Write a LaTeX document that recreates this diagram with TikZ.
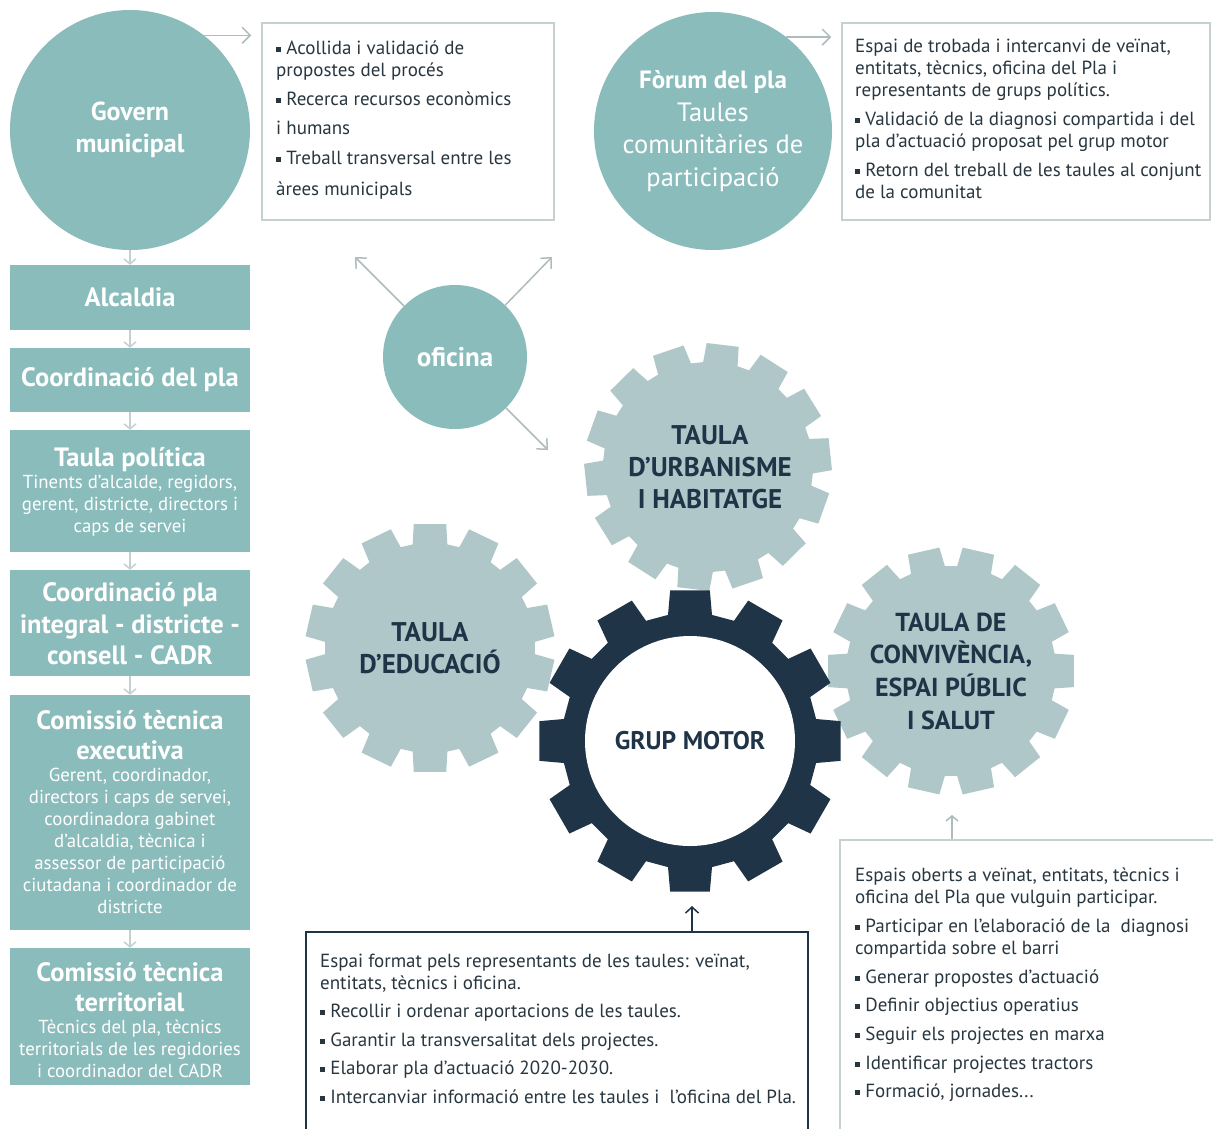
\documentclass[tikz,border=0pt]{standalone}
\usepackage{fontspec}
\setmainfont{PT Sans}
\usepackage{tikz}
\usetikzlibrary{arrows.meta, positioning, calc}

\definecolor{plateal}{HTML}{8ABCBB}
\definecolor{gearlight}{HTML}{AFC7C9}
\definecolor{navy}{HTML}{1F3447}
\definecolor{boxline}{HTML}{C5D0D0}
\definecolor{txt}{HTML}{28363F}
\definecolor{arrowgray}{HTML}{AEBCBC}
\definecolor{colarrow}{HTML}{C3D1D1}

% small square bullet
\newcommand{\sqb}{\raisebox{0.12em}{\rule{0.27em}{0.27em}}\ }

% gear: x, y, teeth, base radius, outer radius, colour, rotation
\newcommand{\gear}[7]{%
  \begin{scope}[shift={(#1,#2)}, rotate=#7]
    \fill[#6] ({0.37*360/#3}:#4)
      \foreach \k [evaluate=\k as \a using \k*360/#3] in {1,...,#3}{
        -- ({\a-0.37*360/#3}:#4) -- ({\a-0.29*360/#3}:#5)
        -- ({\a+0.29*360/#3}:#5) -- ({\a+0.37*360/#3}:#4)} -- cycle;
  \end{scope}}
\newcommand{\motorgear}[5]{%
  \begin{scope}[shift={(#1,#2)}]
    \fill[navy] ({0.33*360/#3}:#4)
      \foreach \k [evaluate=\k as \a using \k*360/#3] in {1,...,#3}{
        -- ({\a-0.33*360/#3}:#4) -- ({\a-0.25*360/#3}:#5)
        -- ({\a+0.25*360/#3}:#5) -- ({\a+0.33*360/#3}:#4)} -- cycle;
  \end{scope}}

\begin{document}
\begin{tikzpicture}[x=1pt, y=-1pt,
    bigdisc/.style={circle, fill=plateal, minimum size=240, inner sep=0, text=white, align=center},
    colbox/.style={rectangle, fill=plateal, minimum width=240, inner sep=0},
    coltitle/.style={text=white, align=center, inner sep=0, font=\fontsize{26.5}{30}\selectfont\bfseries},
    colsub/.style={text=white, align=center, inner sep=0, font=\fontsize{18.8}{22}\selectfont},
    frame/.style={rectangle, draw=boxline, line width=1.5pt, inner sep=0},
    infotext/.style={anchor=north west, inner sep=0, align=left, text=txt, font=\fontsize{19}{22}\selectfont},
    geartext/.style={text=navy, align=center, inner sep=0, font=\fontsize{27}{32}\selectfont\bfseries},
    topflow/.style={draw=arrowgray, line width=1.5pt, -{Straight Barb[length=8pt,width=16pt]}},
    colflow/.style={draw=colarrow, line width=1.5pt, -{Straight Barb[length=5pt,width=12pt]}},
    ofiflow/.style={draw=arrowgray, line width=1.5pt, -{Straight Barb[length=8pt,width=15pt]}}]
  \useasboundingbox[fill=white] (0,0) rectangle (1213,1128);

  % top circles and their boxes
  \node[bigdisc, font=\fontsize{26}{32}\selectfont\bfseries] (govern) at (130,130) {Govern\\municipal};
  \node[bigdisc, minimum size=238, font=\fontsize{26.5}{32.5}\selectfont] (forum) at (713,131)
    {\fontsize{25}{32.5}\selectfont\bfseries Fòrum del pla\\Taules\\comunitàries de\\participació};
  \node[frame, minimum width=292, minimum height=197] (gbox) at (408,121.5) {};
  \node[frame, minimum width=368, minimum height=197] (fbox) at (1026,121.5) {};
  \node[infotext] (gtext) at (276,39) {\strut\sqb Acollida i validació de\\
    propostes del procés\\[7pt]
    \sqb Recerca recursos econòmics\\[7pt]
    i humans\\[8pt]
    \sqb Treball transversal entre les\\[9pt]
    àrees municipals};
  \node[infotext] (ftext) at (855,37) {\strut Espai de trobada i intercanvi de veïnat,\\
    entitats, tècnics, oficina del Pla i\\
    representants de grups polítics.\\[7pt]
    \sqb Validació de la diagnosi compartida i del\\
    pla d’actuació proposat pel grup motor\\[7pt]
    \sqb Retorn del treball de les taules al conjunt\\
    de la comunitat};
  \draw[topflow, shorten >=10pt] (govern.52) -- (govern.52 -| gbox.west);
  \draw[topflow, shorten >=10pt] (forum.52) -- (forum.52 -| fbox.west);

  % left column
  \node[colbox, minimum height=65] (alcaldia) at (130,297.5) {};
  \node[colbox, minimum height=64] (coordpla) at (130,380) {};
  \node[colbox, minimum height=122] (politica) at (130,491) {};
  \node[colbox, minimum height=106] (integral) at (130,623) {};
  \node[colbox, minimum height=235] (executiva) at (130,812.5) {};
  \node[colbox, minimum height=137] (territorial) at (130,1016.5) {};
  \node[coltitle] at (130,297) {Alcaldia};
  \node[coltitle] at (130,380) {Coordinació del pla};
  \node[coltitle] at (130,460) {Taula política};
  \node[colsub] at (130,506) {Tinents d'alcalde, regidors,\\gerent, districte, directors i\\caps de servei};
  \node[coltitle, font=\fontsize{26.5}{31.5}\selectfont\bfseries] at (130,624) {Coordinació pla\\integral - districte -\\consell - CADR};
  \node[coltitle] at (130,735) {Comissió tècnica\\executiva};
  \node[colsub] at (130,841) {Gerent, coordinador,\\directors i caps de servei,\\coordinadora gabinet\\d'alcaldia, tècnica i\\assessor de participació\\ciutadana i coordinador de\\districte};
  \node[coltitle] at (130,987.5) {Comissió tècnica\\territorial};
  \node[colsub] at (130,1049) {Tècnics del pla, tècnics\\territorials de les regidories\\i coordinador del CADR};
  \foreach \a/\b in {govern/alcaldia, alcaldia/coordpla, coordpla/politica,
      politica/integral, integral/executiva, executiva/territorial}
    \draw[colflow] (\a) -- (\b);

  % oficina
  \node[bigdisc, minimum size=144, font=\fontsize{27}{30}\selectfont\bfseries] (oficina) at (455,357) {oficina};
  \coordinate (ofinw) at (355,257);
  \coordinate (ofine) at (552,257);
  \coordinate (ofise) at (548,450);
  \foreach \e in {ofinw, ofine, ofise}
    \draw[ofiflow] (oficina) -- (\e);

  % gears
  \gear{708}{467}{14}{105}{124}{gearlight}{6}
  \gear{430}{648}{14}{105}{125}{gearlight}{12.86}
  \gear{951}{671}{14}{105}{124}{gearlight}{0}
  \motorgear{690}{741}{12}{128}{152}
  \node[geartext] (urban) at (710,467) {TAULA\\D’URBANISME\\I HABITATGE};
  \node[geartext] (educ) at (430,648) {TAULA\\D’EDUCACIÓ};
  \node[geartext, font=\fontsize{26}{32.7}\selectfont\bfseries] (conviv) at (951,671) {TAULA DE\\CONVIVÈNCIA,\\ESPAI PÚBLIC\\I SALUT};
  \node[circle, fill=white, minimum size=210, inner sep=0, text=navy,
    font=\fontsize{25.5}{28}\selectfont\bfseries] (motor) at (690,741) {GRUP MOTOR};

  % bottom boxes
  \node[frame, draw=navy, line width=2pt, minimum width=502, minimum height=202] (mbox) at (557,1033) {};
  \node[frame, minimum width=380, minimum height=292] (cbox) at (1030,986) {};
  \node[infotext] (mtext) at (320,952) {\strut Espai format pels representants de les taules: veïnat,\\
    entitats, tècnics i oficina.\\[6pt]
    \sqb Recollir i ordenar aportacions de les taules.\\[7pt]
    \sqb Garantir la transversalitat dels projectes.\\[6pt]
    \sqb Elaborar pla d’actuació 2020-2030.\\[7pt]
    \sqb Intercanviar informació entre les taules i\ \ l’oficina del Pla.};
  \node[infotext] (ctext) at (855,866) {\strut Espais oberts a veïnat, entitats, tècnics i\\
    oficina del Pla que vulguin participar.\\[7pt]
    \sqb Participar en l’elaboració de la\ \ diagnosi\\
    compartida sobre el barri\\[7pt]
    \sqb Generar propostes d’actuació\\[6pt]
    \sqb Definir objectius operatius\\[7pt]
    \sqb Seguir els projectes en marxa\\[7pt]
    \sqb Identificar projectes tractors\\[6pt]
    \sqb Formació, jornades...};
  \coordinate (motorfoot) at (692,906);
  \coordinate (convfoot) at (952,815);
  \draw[draw=navy, line width=1.5pt, -{Straight Barb[length=6pt,width=13pt]}] (mbox.north -| motorfoot) -- (motorfoot);
  \draw[colflow, draw=arrowgray] (cbox.north -| convfoot) -- (convfoot);
\end{tikzpicture}
\end{document}
